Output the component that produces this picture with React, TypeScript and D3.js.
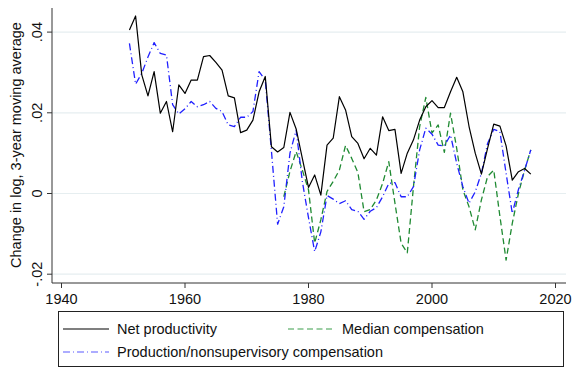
import { useRef, useEffect } from 'react'
import * as d3 from 'd3'

const firstYear = 1951
const netProductivity = [
  0.0405, 0.044, 0.0294, 0.0242, 0.0302, 0.0199, 0.0228, 0.0153, 0.0269, 0.0248,
  0.0281, 0.0281, 0.0339, 0.0342, 0.0325, 0.0306, 0.0242, 0.0237, 0.0151, 0.0157,
  0.0182, 0.0252, 0.029, 0.0116, 0.0103, 0.0114, 0.0201, 0.016, 0.0087, 0.0015,
  0.0046, -0.0004, 0.012, 0.0137, 0.024, 0.0207, 0.0141, 0.0124, 0.0086, 0.0112,
  0.0095, 0.019, 0.0156, 0.0159, 0.005, 0.01, 0.0133, 0.0182, 0.0215, 0.023,
  0.0213, 0.0213, 0.0252, 0.0288, 0.0252, 0.0166, 0.01, 0.0048, 0.0112, 0.0172,
  0.0167, 0.0118, 0.0033, 0.0054, 0.0062, 0.0048,
]
const productionComp = [
  0.0372, 0.0271, 0.0298, 0.0338, 0.0374, 0.0347, 0.0343, 0.022, 0.0197, 0.021,
  0.0228, 0.0215, 0.022, 0.0228, 0.0211, 0.0203, 0.017, 0.0166, 0.0189, 0.0189,
  0.0203, 0.0302, 0.0281, 0.0105, -0.0076, -0.0033, 0.01, 0.0157, 0.003, -0.006,
  -0.0144, -0.0095, -0.0005, -0.0014, -0.0025, -0.0018, -0.004, -0.0044, -0.0064, -0.0044,
  -0.0035, -0.0008, 0.0025, 0.0027, -0.0008, -0.0008, 0.0017, 0.0108, 0.0162, 0.0147,
  0.012, 0.0118, 0.0145, 0.0075, 0.0017, -0.0024, 0.0004, 0.005, 0.0124, 0.0159,
  0.0153, 0.005, -0.0049, 0.001, 0.0058, 0.0108,
]
const medianFirstYear = 1976
const medianComp = [
  -0.0008, 0.0055, 0.0104, 0.0058, 0.0009, -0.0123, -0.0065, 0.0005, 0.003, 0.0058,
  0.0119, 0.0087, 0.0052, -0.0045, -0.004, -0.0016, 0.0025, 0.0079, -0.0024, -0.0123,
  -0.0147, 0.0017, 0.0166, 0.0238, 0.015, 0.017, 0.0102, 0.0199, 0.0112, 0.0009,
  -0.0033, -0.009, -0.0016, 0.0042, 0.0058, -0.0057, -0.0165, -0.0074, 0.0, 0.0058,
  0.0108,
]
const xTicks = [1940, 1960, 1980, 2000, 2020]
const yTicks = [-0.02, 0, 0.02, 0.04]
const yTickLabels = ['-.02', '0', '.02', '.04']

type Pt = { year: number; v: number }
const toPts = (start: number, vals: number[]): Pt[] => vals.map((v, i) => ({ year: start + i, v }))

export default function App() {
  const ref = useRef<SVGSVGElement>(null)

  useEffect(() => {
    const svg = d3.select(ref.current)
    svg.selectAll('*').remove()
    const font = 'Liberation Sans, Arial, Helvetica, sans-serif'
    const fs = 14.5

    const x = d3.scaleLinear().domain([1940, 2020]).range([61.5, 555.5])
    const y = d3.scaleLinear().domain([-0.02, 0.04]).range([274.2, 32.1])
    const left = 52, right = 566, bottom = 283, top = 8

    // grid
    svg.append('g')
      .selectAll('line')
      .data(yTicks)
      .enter()
      .append('line')
      .attr('x1', left).attr('x2', right)
      .attr('y1', d => y(d)).attr('y2', d => y(d))
      .attr('stroke', '#e6eef0')
      .attr('stroke-width', 1.2)

    // axes
    svg.append('line').attr('x1', left).attr('x2', left).attr('y1', top).attr('y2', bottom)
      .attr('stroke', '#333').attr('stroke-width', 1)
    svg.append('line').attr('x1', left).attr('x2', right).attr('y1', bottom).attr('y2', bottom)
      .attr('stroke', '#333').attr('stroke-width', 1)

    svg.append('g').selectAll('line').data(yTicks).enter().append('line')
      .attr('x1', left - 5).attr('x2', left)
      .attr('y1', d => y(d)).attr('y2', d => y(d))
      .attr('stroke', '#333')
    svg.append('g').selectAll('text').data(yTicks).enter().append('text')
      .attr('transform', d => `translate(42,${y(d)}) rotate(-90)`)
      .attr('text-anchor', 'middle')
      .attr('font-family', font).attr('font-size', fs).attr('fill', '#111')
      .text((_, i) => yTickLabels[i])

    svg.append('g').selectAll('line').data(xTicks).enter().append('line')
      .attr('x1', d => x(d)).attr('x2', d => x(d))
      .attr('y1', bottom).attr('y2', bottom + 5)
      .attr('stroke', '#333')
    svg.append('g').selectAll('text').data(xTicks).enter().append('text')
      .attr('x', d => x(d)).attr('y', 304)
      .attr('text-anchor', 'middle')
      .attr('font-family', font).attr('font-size', fs).attr('fill', '#111')
      .text(d => d)

    svg.append('text')
      .attr('transform', `translate(21,145) rotate(-90)`)
      .attr('text-anchor', 'middle')
      .attr('font-family', font).attr('font-size', fs).attr('fill', '#111')
      .text('Change in log, 3-year moving average')

    // lines
    const line = d3.line<Pt>().x(d => x(d.year)).y(d => y(d.v))
    const series = [
      { data: toPts(medianFirstYear, medianComp), color: '#1f8a32', dash: '6,3.5', width: 1.3 },
      { data: toPts(firstYear, productionComp), color: '#2020ff', dash: '7,3,1,3', width: 1.3 },
      { data: toPts(firstYear, netProductivity), color: '#000', dash: null, width: 1.2 },
    ]
    series.forEach(s => {
      svg.append('path')
        .datum(s.data)
        .attr('fill', 'none')
        .attr('stroke', s.color)
        .attr('stroke-width', s.width)
        .attr('stroke-dasharray', s.dash)
        .attr('stroke-linejoin', 'round')
        .attr('d', line)
    })

    // legend
    const lg = svg.append('g')
    lg.append('rect').attr('x', 58.5).attr('y', 311.5).attr('width', 505).attr('height', 55)
      .attr('fill', 'white').attr('stroke', '#222').attr('stroke-width', 1)
    const items = [
      { label: 'Net productivity', color: '#000', dash: null, x: 63, y: 334 },
      { label: 'Median compensation', color: '#3a9e4a', dash: '6,3.5', x: 288, y: 334 },
      { label: 'Production/nonsupervisory compensation', color: '#5a5aff', dash: '7,3,1,3', x: 63, y: 357 },
    ]
    items.forEach(it => {
      lg.append('line').attr('x1', it.x).attr('x2', it.x + 46).attr('y1', it.y - 5).attr('y2', it.y - 5)
        .attr('stroke', it.color).attr('stroke-width', 1.2).attr('stroke-dasharray', it.dash)
      lg.append('text').attr('x', it.x + 54).attr('y', it.y)
        .attr('font-family', font).attr('font-size', fs).attr('fill', '#111')
        .text(it.label)
    })
  }, [])

  return (
    <div style={{ position: 'absolute', left: 0, top: 0, width: 576, height: 371, background: '#fff' }}>
      <svg ref={ref} width={576} height={371} style={{ display: 'block' }} />
    </div>
  )
}
